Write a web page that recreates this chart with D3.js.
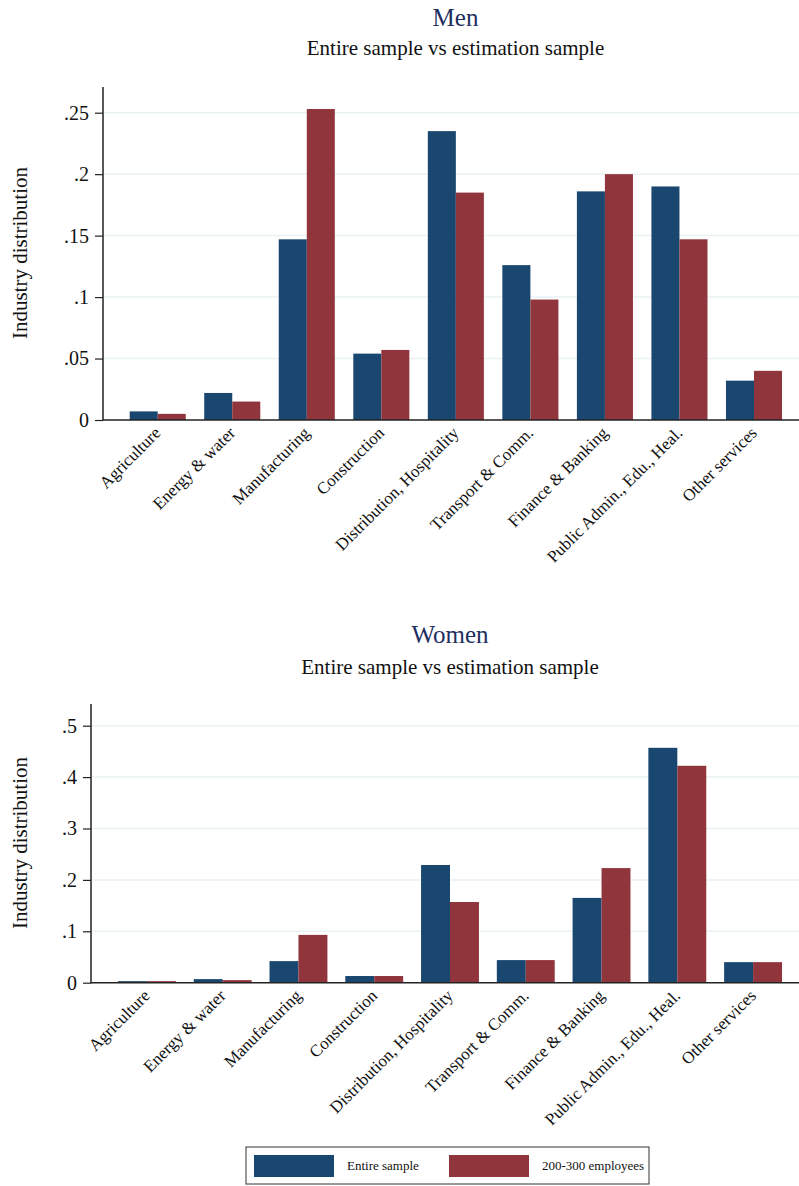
<!DOCTYPE html>
<html><head><meta charset="utf-8">
<script src="https://cdn.jsdelivr.net/npm/d3@7"></script>
<style>
html,body{margin:0;padding:0;background:#fff;}
svg{display:block;font-family:"Liberation Serif","Times New Roman",serif;}
</style></head>
<body><svg id="chart" width="799" height="1186"></svg>
<script>
const categories = ["Agriculture","Energy & water","Manufacturing","Construction","Distribution, Hospitality","Transport & Comm.","Finance & Banking","Public Admin., Edu., Heal.","Other services"];
const seriesNames = ["Entire sample","200-300 employees"];
const menEntire = [0.007,0.022,0.147,0.054,0.235,0.126,0.186,0.190,0.032];
const menEst    = [0.005,0.015,0.253,0.057,0.185,0.098,0.200,0.147,0.040];
const womenEntire = [0.003,0.007,0.042,0.013,0.229,0.044,0.165,0.457,0.040];
const womenEst    = [0.003,0.005,0.093,0.013,0.157,0.044,0.223,0.422,0.040];
const menTicks = [0,0.05,0.1,0.15,0.2,0.25];
const womenTicks = [0,0.1,0.2,0.3,0.4,0.5];
const title1 = "Men", title2 = "Women";
const subtitle = "Entire sample vs estimation sample";
const yTitle = "Industry distribution";

const colors = ["#1a476f","#90353b"];
const svg = d3.select("#chart");
const fmt = v => v === 0 ? "0" : d3.format("")(+v.toFixed(3)).replace(/^0\./,".");

function panel(o){
  const g = svg.append("g");
  const y = d3.scaleLinear().domain([0,o.ymax]).range([o.base,o.ytop]);
  const x = d3.scaleBand().domain(categories).range([o.left,o.right]).paddingInner(o.pi).paddingOuter(o.po);
  const xs = d3.scaleBand().domain([0,1]).range([0,x.bandwidth()]);
  // titles
  g.append("text").attr("x",o.cx).attr("y",o.tY).attr("text-anchor","middle")
    .attr("font-size",25).attr("fill","#1f2f5f").text(o.title);
  g.append("text").attr("x",o.cx).attr("y",o.sY).attr("text-anchor","middle")
    .attr("font-size",21).attr("fill","#111").text(subtitle);
  // gridlines
  g.selectAll(".grid").data(o.ticks.filter(t=>t>0)).join("line")
    .attr("x1",o.left+1).attr("x2",799).attr("y1",d=>y(d)).attr("y2",d=>y(d))
    .attr("stroke","#eaf2f3").attr("stroke-width",1.5);
  // bars
  const data = categories.map((c,i)=>({c,v:[o.s1[i],o.s2[i]]}));
  const grp = g.selectAll(".grp").data(data).join("g").attr("transform",d=>`translate(${x(d.c)},0)`);
  grp.selectAll("rect").data(d=>d.v.map((v,k)=>({v,k}))).join("rect")
    .attr("x",d=>xs(d.k)).attr("width",xs.bandwidth())
    .attr("y",d=>y(d.v)).attr("height",d=>o.base-y(d.v))
    .attr("fill",d=>colors[d.k]);
  // y axis
  const ya = d3.axisLeft(y).tickValues(o.ticks).tickFormat(fmt).tickSize(8).tickPadding(6);
  const yg = g.append("g").attr("transform",`translate(${o.left},0)`).call(ya);
  yg.select(".domain").remove();
  yg.selectAll(".tick line").attr("stroke","#222").attr("stroke-width",1.2);
  yg.selectAll(".tick text").attr("font-size",20).attr("fill","#111")
    .attr("font-family","Liberation Serif, serif");
  g.append("line").attr("x1",o.left).attr("x2",o.left).attr("y1",o.axTop).attr("y2",o.base+0.5)
    .attr("stroke","#222").attr("stroke-width",1.5);
  // x axis
  const xa = d3.axisBottom(x).tickSize(0).tickPadding(0);
  const xg = g.append("g").attr("transform",`translate(0,${o.base})`).call(xa);
  xg.select(".domain").remove();
  xg.selectAll(".tick text").attr("font-size",17).attr("fill","#111")
    .attr("font-family","Liberation Serif, serif")
    .attr("text-anchor","end").attr("y",0).attr("dy",0)
    .attr("transform","translate(4,14) rotate(-45)");
  g.append("line").attr("x1",o.left).attr("x2",799).attr("y1",o.base).attr("y2",o.base)
    .attr("stroke","#222").attr("stroke-width",1.5);
  // y title
  g.append("text").attr("transform",`translate(27,${o.yTitleY}) rotate(-90)`)
    .attr("text-anchor","middle").attr("font-size",21).attr("fill","#111").text(yTitle);
}

panel({title:title1,s1:menEntire,s2:menEst,ticks:menTicks,ymax:0.25,base:420,ytop:112.7,axTop:87,
  left:103,right:808.7,pi:0.248,po:0.358,cx:455.5,tY:26,sY:55,yTitleY:253});
panel({title:title2,s1:womenEntire,s2:womenEst,ticks:womenTicks,ymax:0.5,base:982.7,ytop:725.7,axTop:704,
  left:91,right:809,pi:0.236,po:0.356,cx:450,tY:643,sY:674,yTitleY:843});

// legend
const lg = svg.append("g");
lg.append("rect").attr("x",246).attr("y",1147).attr("width",403).attr("height",37)
  .attr("fill","#fff").attr("stroke","#333").attr("stroke-width",1);
const lx = [254,449];
seriesNames.forEach((n,i)=>{
  lg.append("rect").attr("x",lx[i]).attr("y",1155).attr("width",80).attr("height",22).attr("fill",colors[i]);
  lg.append("text").attr("x",lx[i]+93).attr("y",1170).attr("font-size",13).attr("fill","#111").text(n);
});
</script></body></html>
